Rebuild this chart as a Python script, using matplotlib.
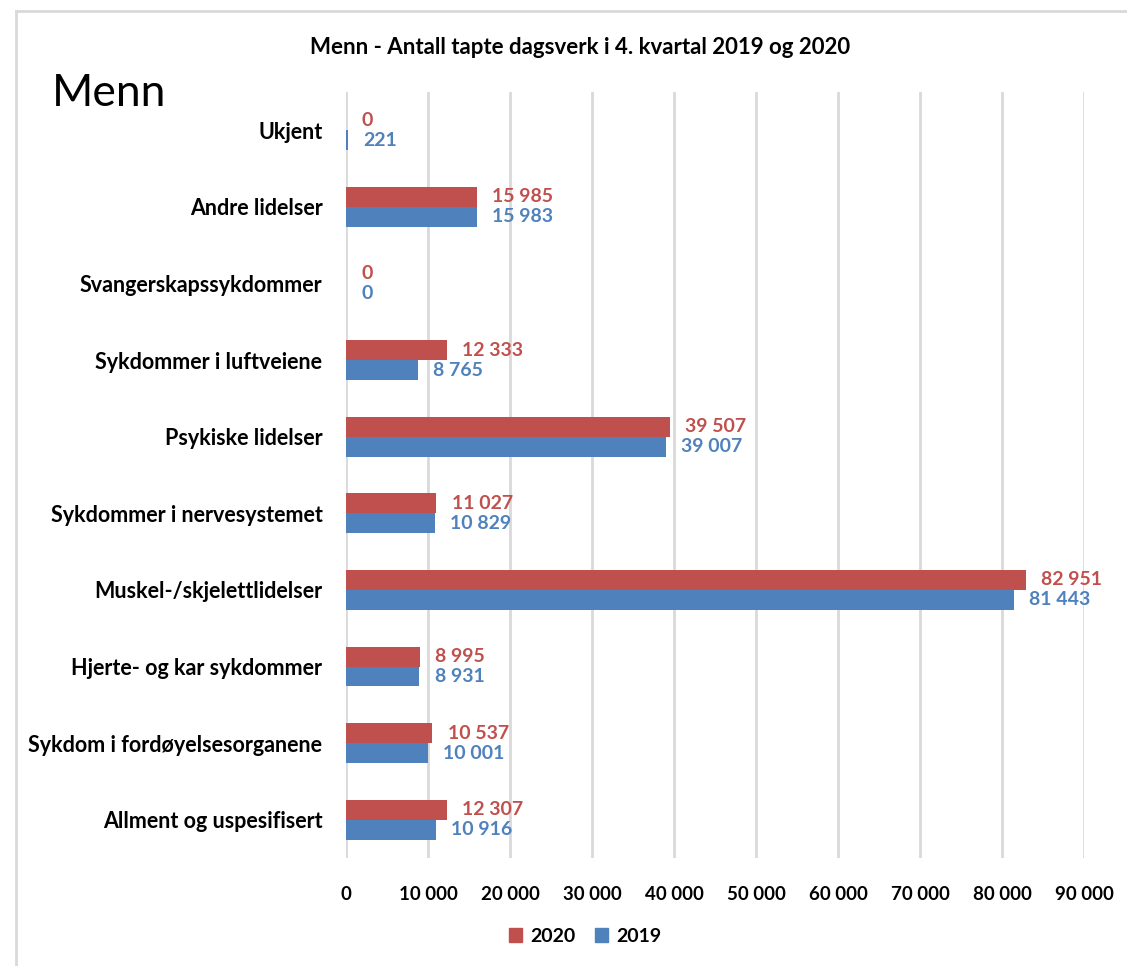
import matplotlib
matplotlib.use("Agg")
import matplotlib.pyplot as plt
from matplotlib.lines import Line2D
from matplotlib.patches import Patch
import numpy as np

categories = ["Ukjent", "Andre lidelser", "Svangerskapssykdommer", "Sykdommer i luftveiene",
              "Psykiske lidelser", "Sykdommer i nervesystemet", "Muskel-/skjelettlidelser",
              "Hjerte- og kar sykdommer", "Sykdom i fordøyelsesorganene", "Allment og uspesifisert"]
values_2020 = [0, 15985, 0, 12333, 39507, 11027, 82951, 8995, 10537, 12307]
values_2019 = [221, 15983, 0, 8765, 39007, 10829, 81443, 8931, 10001, 10916]
xticks = [0, 10000, 20000, 30000, 40000, 50000, 60000, 70000, 80000, 90000]

RED = "#C0504D"
BLUE = "#4F81BD"
GRID = "#D9D9D9"

plt.rcParams['font.family'] = ['Lato', 'DejaVu Sans']

def fmt(v):
    return f"{v:,}".replace(",", " ")

fig = plt.figure(figsize=(11.27, 9.66), dpi=100)
ax = fig.add_axes([346/1127, 1-858/966, (1084-346)/1127, (858-92)/966])

y = np.arange(len(categories))
h = 0.26
ax.barh(y - h/2, values_2020, height=h, color=RED, label="2020", zorder=3)
ax.barh(y + h/2, values_2019, height=h, color=BLUE, label="2019", zorder=3)

for yi, v in zip(y, values_2020):
    ax.annotate(fmt(v), (v, yi - h/2), xytext=(11, 0), textcoords="offset points",
                va="center", ha="left", color=RED, fontsize=14, fontweight="bold")
for yi, v in zip(y, values_2019):
    ax.annotate(fmt(v), (v, yi + h/2), xytext=(11, 0), textcoords="offset points",
                va="center", ha="left", color=BLUE, fontsize=14, fontweight="bold")

ax.set_xlim(0, 90000)
ax.set_ylim(len(categories) - 0.5, -0.5)
ax.set_xticks(xticks)
ax.set_xticklabels([fmt(t) for t in xticks], fontsize=13.5, fontweight="bold")
ax.set_yticks(y)
ax.set_yticklabels(categories, fontsize=15.5, fontweight="bold")
ax.tick_params(axis="x", length=0, pad=20)
ax.tick_params(axis="y", length=0, pad=17)
ax.grid(axis="x", color=GRID, linewidth=2, zorder=0)
for s in ax.spines.values():
    s.set_visible(False)

fig.text(580/1127, 1-47/966, "Menn - Antall tapte dagsverk i 4. kvartal 2019 og 2020",
         ha="center", va="center", fontsize=16, fontweight="bold")
fig.text(52/1127, 1-94/966, "Menn", ha="left", va="center", fontsize=32)

handles = [Patch(color=RED, label="2020"), Patch(color=BLUE, label="2019")]
fig.legend(handles=handles, loc="center", bbox_to_anchor=(585/1127, 1-936/966), ncol=2,
           frameon=False, prop={"size": 14, "weight": "bold"}, handlelength=0.7,
           handleheight=0.7, handletextpad=0.4, columnspacing=1.0)

# outer frame lines
fig.add_artist(Line2D([16/1127, 16/1127], [0, 1-11/966], transform=fig.transFigure,
                      color=GRID, linewidth=2))
fig.add_artist(Line2D([16/1127, 1], [1-11/966, 1-11/966], transform=fig.transFigure,
                      color=GRID, linewidth=2))

fig.savefig("out.png", dpi=100, facecolor="white")
